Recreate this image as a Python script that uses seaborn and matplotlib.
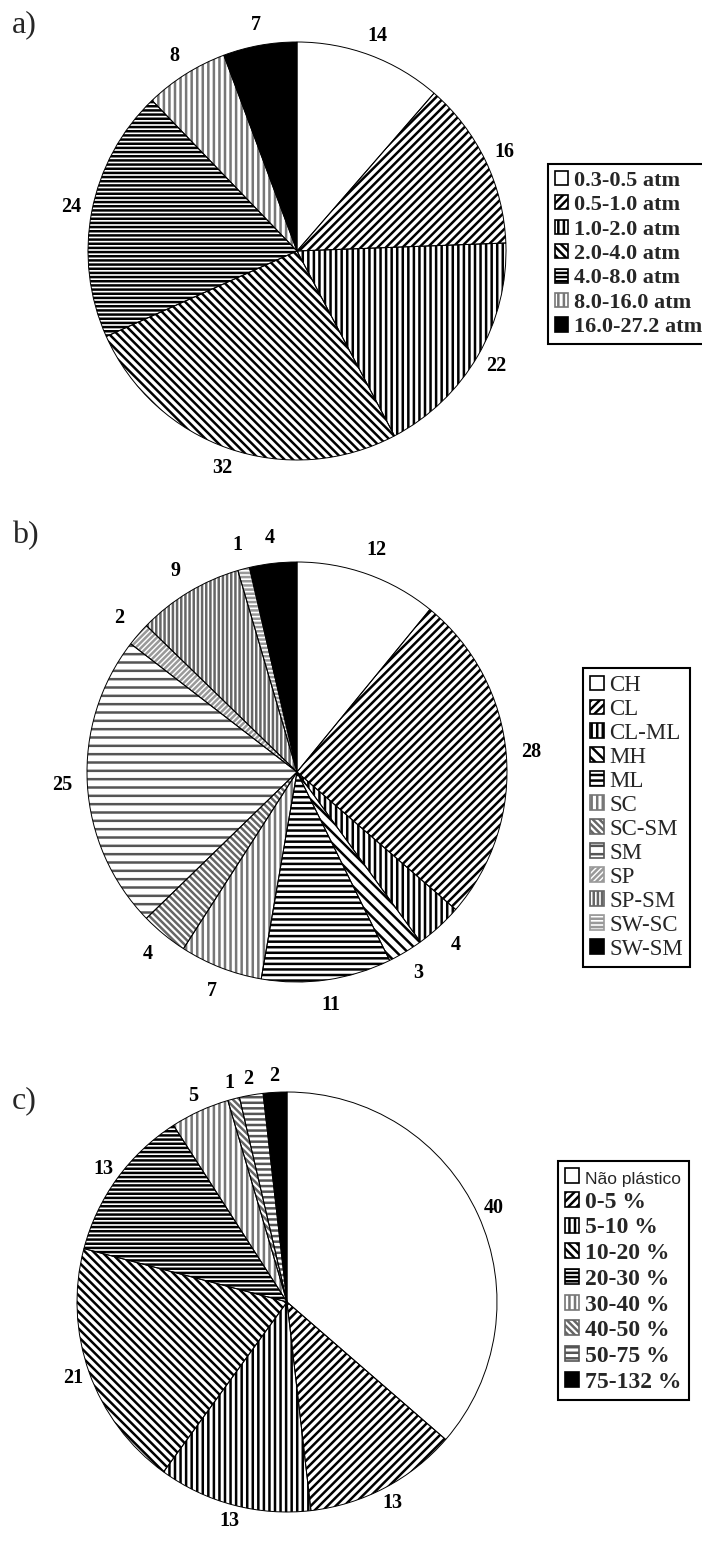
import matplotlib
matplotlib.use("Agg")
import matplotlib.pyplot as plt
from matplotlib.patches import Patch
import seaborn as sns

sns.set_theme(style="white")
plt.rcParams["font.family"] = ["Liberation Serif", "DejaVu Sans"]
plt.rcParams["hatch.linewidth"] = 1.8

# ---------------- data ----------------
a_labels = ["0.3-0.5 atm", "0.5-1.0 atm", "1.0-2.0 atm", "2.0-4.0 atm",
            "4.0-8.0 atm", "8.0-16.0 atm", "16.0-27.2 atm"]
a_values = [14, 16, 22, 32, 24, 8, 7]

b_labels = ["CH", "CL", "CL-ML", "MH", "ML", "SC", "SC-SM", "SM", "SP",
            "SP-SM", "SW-SC", "SW-SM"]
b_values = [12, 28, 4, 3, 11, 7, 4, 25, 2, 9, 1, 4]

c_labels = ["Não plástico", "0-5 %", "5-10 %", "10-20 %", "20-30 %",
            "30-40 %", "40-50 %", "50-75 %", "75-132 %"]
c_values = [40, 13, 13, 21, 13, 5, 1, 2, 2]

# ---------------- styles (hatch, face, hatch colour) ----------------
a_styles = [
    ("", "white", "black"),
    ("////", "white", "black"),
    ("|||", "white", "black"),
    ("\\\\\\\\", "white", "black"),
    ("----", "white", "black"),
    ("|||", "white", "#777777"),
    ("", "black", "black"),
]
b_styles = [
    ("", "white", "black"),
    ("////", "white", "black"),
    ("|||", "white", "black"),
    ("\\\\\\", "white", "black"),
    ("---", "white", "black"),
    ("|||", "white", "#777777"),
    ("\\\\\\\\\\", "white", "#666666"),
    ("--", "white", "#555555"),
    ("//////", "white", "#999999"),
    ("||||", "white", "#666666"),
    ("----", "white", "#999999"),
    ("", "black", "black"),
]
c_styles = [
    ("", "white", "black"),
    ("////", "white", "black"),
    ("|||", "white", "black"),
    ("\\\\\\\\", "white", "black"),
    ("----", "white", "black"),
    ("|||", "white", "#777777"),
    ("\\\\\\\\\\", "white", "#666666"),
    ("---", "white", "#555555"),
    ("", "black", "black"),
]

W, H = 702, 1542
fig = plt.figure(figsize=(W / 100, H / 100), dpi=100)


def rect_from_center(cx, cy, r):
    return [(cx - r) / W, 1 - (cy + r) / H, 2 * r / W, 2 * r / H]


def draw_pie(cx, cy, r, values, styles, labeldist=1.1):
    ax = fig.add_axes(rect_from_center(cx, cy, r))
    wedges, texts = ax.pie(values, labels=[str(v) for v in values],
                           startangle=90, counterclock=False,
                           labeldistance=labeldist,
                           wedgeprops=dict(linewidth=0),
                           textprops=dict(fontsize=14.5, fontweight="bold",
                                          color="black"))
    for t in texts:
        t.set_horizontalalignment("center")
        t.set_verticalalignment("center")
    for w, (h, fc, hc) in zip(wedges, styles):
        w.set_facecolor(fc)
        w.set_edgecolor(hc)
        w.set_hatch(h)
    ax.pie(values, startangle=90, counterclock=False,
           wedgeprops=dict(fill=False, edgecolor="black", linewidth=0.7))
    ax.set_xlim(-1, 1)
    ax.set_ylim(-1, 1)
    ax.set_aspect("equal")
    ax.axis("off")
    return ax


def make_legend(labels, styles, x, y, size, weight, spacing):
    handles = []
    for lab, (h, fc, hc) in zip(labels, styles):
        p = Patch(facecolor=fc, edgecolor=hc if h else "black", hatch=h,
                  linewidth=1.2, label=lab)
        handles.append(p)
    leg = fig.legend(handles=handles, loc="upper left",
                     bbox_to_anchor=(x / W, 1 - y / H),
                     prop=dict(family="Liberation Serif", weight=weight,
                               size=size),
                     frameon=True, fancybox=False, framealpha=1,
                     edgecolor="black", borderpad=0.3, borderaxespad=0,
                     handlelength=0.6, handleheight=0.6,
                     handletextpad=0.25, labelspacing=spacing)
    leg.get_frame().set_linewidth(1.5)
    return leg


draw_pie(297, 251, 209, a_values, a_styles)
draw_pie(297, 772, 210, b_values, b_styles, labeldist=1.12)
draw_pie(287, 1302, 210, c_values, c_styles, labeldist=1.08)

make_legend(a_labels, a_styles, 548, 164, 16, "bold", 0.2)
make_legend(b_labels, b_styles, 583, 668, 16.5, "normal", 0.13)
legc = make_legend(c_labels, c_styles, 558, 1161, 17, "bold", 0.2)
t0 = legc.get_texts()[0]
t0.set_fontfamily("Liberation Sans")
t0.set_fontweight("normal")
t0.set_fontsize(12.5)

for lab, y in [("a)", 10), ("b)", 521), ("c)", 1086)]:
    fig.text(12 / W, 1 - y / H, lab, fontsize=23, va="top", ha="left",
             family="Liberation Serif")

fig.savefig("out.png", dpi=100)
